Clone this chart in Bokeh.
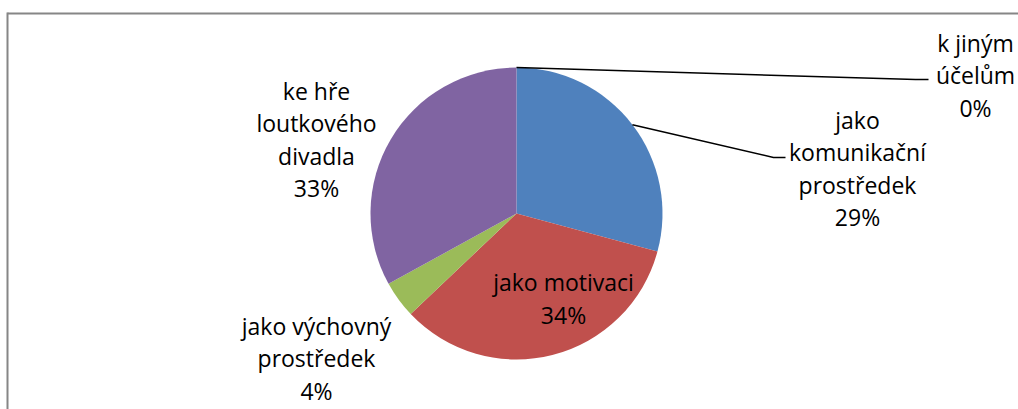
import math
from bokeh.plotting import figure
from bokeh.models import Range1d
from bokeh.core.properties import value
from bokeh.embed import file_html
from bokeh.resources import INLINE

# data
categories = ["jako komunikační prostředek", "jako motivaci", "jako výchovný prostředek",
              "ke hře loutkového divadla", "k jiným účelům"]
values = [29.2, 33.7, 4.1, 33.0, 0.0]
label_texts = ["jako\nkomunikační\nprostředek", "jako motivaci", "jako výchovný\nprostředek",
               "ke hře\nloutkového\ndivadla", "k jiným\núčelům"]
colors = ["#4F81BD", "#C0504D", "#9BBB59", "#8064A2", "#4BACC6"]

W, H = 1018, 409
p = figure(width=W, height=H, output_backend="svg", toolbar_location=None,
           x_range=Range1d(0, W), y_range=Range1d(0, H),
           min_border=0, min_border_left=0, min_border_right=0, min_border_top=0, min_border_bottom=0)
p.axis.visible = False
p.grid.visible = False
p.outline_line_color = None
p.background_fill_color = "white"
p.border_fill_color = "white"

def Y(y):
    return H - y

cx, cy, r = 516, Y(213), 146
total = sum(values)
starts, ends, mids = [], [], []
cum = 0.0
for v in values:
    a0 = cum / total
    cum += v
    a1 = cum / total
    starts.append(math.pi / 2 - 2 * math.pi * a1)
    ends.append(math.pi / 2 - 2 * math.pi * a0)
    mids.append((a0 + a1) / 2)

for i, v in enumerate(values):
    if v > 0:
        p.wedge(x=cx, y=cy, radius=r, radius_units="screen", start_angle=starts[i], end_angle=ends[i],
                fill_color=colors[i], line_color=None)

pct = [round(v / total * 100) for v in values]
texts = [f"{t}\n{q}%" for t, q in zip(label_texts, pct)]
label_pos = [(857, 168), (563, 298), (316, 358), (316, 139), (975, 75)]
for t, (lx, ly) in zip(texts, label_pos):
    p.text(x=[lx], y=[Y(ly)], text=[t], text_font=value("Open Sans"), text_font_size="23px",
           text_align="center", text_baseline="middle", text_line_height=1.01, text_color="black")

# leader lines from slice mid-points
def edge(frac):
    ang = 2 * math.pi * frac
    return cx + r * math.sin(ang), cy + r * math.cos(ang)

ex, ey = edge(mids[0])
p.line(x=[ex, 773, 785], y=[ey, Y(157), Y(157)], line_color="black", line_width=1.5)
ex, ey = edge(mids[4])
p.line(x=[ex, 915, 928], y=[ey, Y(79), Y(79)], line_color="black", line_width=1.5)

# chart area border
p.line(x=[7, 7], y=[Y(12), Y(409)], line_color="#868686", line_width=2)
p.line(x=[7, 1018], y=[Y(13), Y(13)], line_color="#868686", line_width=2)

open("out.html", "w").write(file_html(p, INLINE))
